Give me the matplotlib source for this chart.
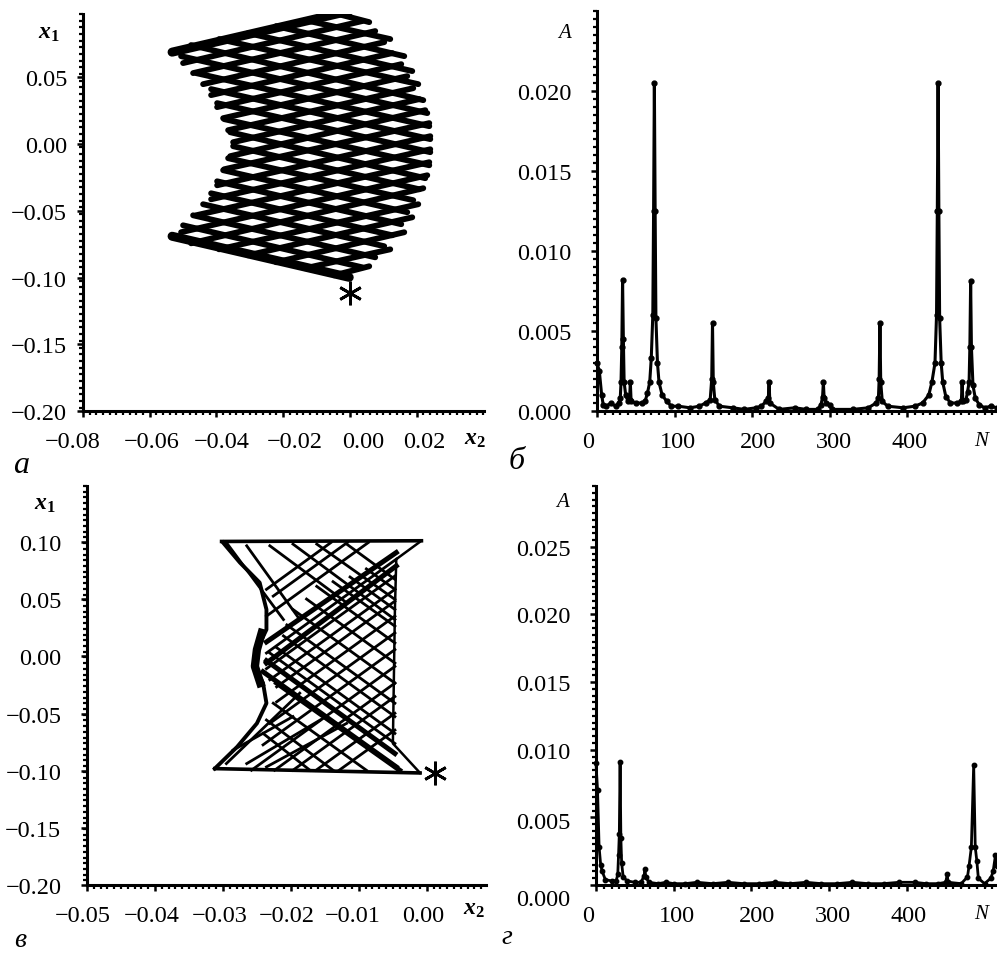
import numpy as np
import matplotlib
matplotlib.use('Agg')
import matplotlib.pyplot as plt
from matplotlib.ticker import FixedLocator
from matplotlib.transforms import ScaledTranslation

# Panel a: mesh of two line families, ends
a_up_left_x2 = [-.0533, -.0500, -.0470, -.0440, -.0416, -.0398, -.0380, -.0365, -.0350, -.0359, -.0377,
                -.0398, -.0416, -.0461, -.0506, -.0476, -.0392, -.0305, -.0221, -.0134, -.0047]
a_up_left_x1 = [.0690, .0608, .0533, .0450, .0368, .0278, .0195, .0105, .0015, -.0090, -.0188,
                -.0308, -.0413, -.0533, -.0660, -.0743, -.0788, -.0833, -.0885, -.0930, -.0983]
a_up_right_x2 = [-.0002, .0037, .0076, .0103, .0127, .0154, .0172, .0190, .0208, .0226, .0238,
                 .0241, .0241, .0238, .0232, .0220, .0205, .0187, .0163, .0121, .0058]
a_up_right_x1 = [.0998, .0923, .0848, .0765, .0683, .0600, .0510, .0420, .0338, .0255, .0158,
                 .0060, -.0038, -.0135, -.0233, -.0330, -.0450, -.0548, -.0660, -.0788, -.0915]
a_down_left_x1 = [-.0690, -.0608, -.0533, -.0450, -.0368, -.0278, -.0195, -.0105, -.0015, .0090, .0188,
                  .0308, .0413, .0533, .0660, .0743, .0788, .0833, .0885, .0930, .0983]
a_down_right_x1 = [-.0998, -.0923, -.0848, -.0765, -.0683, -.0600, -.0510, -.0420, -.0338, -.0255, -.0158,
                   -.0060, .0038, .0135, .0233, .0330, .0450, .0548, .0660, .0788, .0915]

# Panel c: thick bands
c_thick_start_x2 = [-.0236, -.0236, -.0241, -.0236, -.0221]
c_thick_start_x1 = [.0126, -.0059, -.0135, -.0038, -.0234]
c_thick_end_x2 = [-.0045, -.0045, -.0045, -.0047, -.0040]
c_thick_end_x1 = [.0908, .0791, -.0967, -.0850, -.0996]

# Panel c: thin crossing lines
c_start_x2 = [-.0236, -.0236, -.0231, -.0221, -.0221, -.0231, -.0241, -.0258, -.0224, -.0197, -.0163, -.0129,
              -.0236, -.0226, -.0236, -.0295, -.0265, -.0236, -.0285,
              -.0231, -.0221, -.0211, -.0206, -.0197, -.0177, -.0162, -.0138, -.0113, -.0089,
              -.0226, -.0236, -.0241, -.0295, -.0265, -.0231, -.0197, -.0162, -.0118]
c_start_x1 = [.0029, -.0108, -.0205, -.0267, -.0398, -.0586, -.0774, -.0996, -.0996, -.0996, -.0996, -.0996,
              .0352, .0527, .0586, -.0938, -.0938, -.0967, -.0820,
              .0029, .0076, .0179, .0275, .0410, .0501, .0612, .0653, .0694, .0765,
              -.0410, -.0557, -.0674, .0996, .0967, .0967, .0982, .0982, .0982]
c_end_x2 = [-.0045, -.0047, -.0047, -.0047, -.0047, -.0047, -.0047, -.0047, -.0047, -.0047, -.0047, -.0047,
            -.0086, -.0117, -.0141, -.0187, -.0157, -.0118, -.0197,
            -.0047, -.0047, -.0047, -.0047, -.0047, -.0047, -.0047, -.0047, -.0047, -.0047,
            -.0089, -.0138, -.0172, -.0211, -.0187, -.0118, -.0047, -.0047, -.0047]
c_end_x1 = [.0850, .0703, .0586, .0483, .0352, .0205, .0059, -.0088, -.0234, -.0352, -.0498, -.0645,
            .0996, .0996, .0996, -.0322, -.0557, -.0586, -.0527,
            -.0762, -.0674, -.0527, -.0410, -.0234, -.0059, .0117, .0264, .0410, .0586,
            -.0996, -.0996, -.0996, .0322, .0322, .0469, .0322, .0498, .0674]

# Panel c: outline
c_left_x2 = [-.0300, -.0275, -.0246, -.0236, -.0236, -.0250, -.0253, -.0241, -.0236, -.0250, -.0279, -.0312]
c_left_x1 = [.0996, .0820, .0645, .0410, .0234, .0059, -.0088, -.0234, -.0410, -.0586, -.0791, -.0982]
c_waist_x2 = [-.0243, -.0250, -.0253, -.0245]
c_waist_x1 = [.0205, .0059, -.0088, -.0234]
c_right_x2 = [-.0008, -.0045, -.0047, -.0050, -.0010]
c_right_x1 = [.1011, .0850, .0410, -.0762, -.1020]
c_top_x2 = [-.0302, -.0008]
c_top_x1 = [.1005, .1011]
c_bottom_x2 = [-.0312, -.0010]
c_bottom_x1 = [-.0982, -.1020]

# Panel b spectrum
b_n = [0, 3, 6, 8, 12, 18, 24, 28, 30, 31, 32, 33, 34, 35, 37, 40, 42, 43, 44, 50, 58, 62, 65, 68, 70, 72, 73, 74,
       75, 76, 78, 80, 84, 90, 96, 105, 120, 132, 140, 146, 148, 149, 150, 152, 158, 175, 190, 205, 212, 218, 221,
       222, 223, 235, 255, 270, 285, 289, 291, 292, 293, 296, 300, 303, 330, 350, 360, 363, 364, 365, 366, 368,
       375, 395, 410, 420, 428, 432, 436, 438, 439, 440, 441, 442, 444, 446, 450, 456, 465, 470, 471, 472, 476,
       478, 480, 481, 482, 483, 485, 488, 493, 500, 508, 516]
b_a = [.0030, .0025, .0010, .0004, .0003, .0005, .0003, .0005, .0008, .0018, .0040, .0082, .0045, .0018, .0010,
       .0006, .0007, .0018, .0006, .0005, .0005, .0006, .0011, .0018, .0033, .0060, .0125, .0205, .0125, .0058,
       .0030, .0018, .0010, .0006, .0003, .0003, .0002, .0003, .0005, .0007, .0020, .0055, .0018, .0007, .0003,
       .0002, .0001, .0002, .0003, .0006, .0008, .0018, .0005, .0001, .0002, .0001, .0001, .0004, .0009, .0018,
       .0008, .0005, .0004, .0001, .0001, .0002, .0005, .0008, .0020, .0055, .0018, .0006, .0003, .0002, .0003,
       .0005, .0010, .0018, .0030, .0060, .0125, .0205, .0125, .0058, .0030, .0018, .0009, .0005, .0005, .0006,
       .0018, .0006, .0007, .0012, .0018, .0040, .0081, .0040, .0016, .0008, .0004, .0002, .0003, .0002]

# Panel d spectrum
d_n = [0, 2, 4, 6, 8, 12, 20, 26, 28, 29, 30, 31, 32, 33, 35, 40, 50, 58, 62, 63, 64, 68, 80, 90, 100, 115, 130,
       150, 170, 190, 210, 230, 250, 270, 290, 310, 330, 350, 370, 390, 410, 425, 440, 450, 452, 453, 470, 478,
       480, 483, 486, 488, 490, 492, 500, 508, 511, 514, 516]
d_a = [.0090, .0070, .0028, .0015, .0010, .0004, .0003, .0003, .0008, .0022, .0038, .0091, .0035, .0016, .0006,
       .0003, .0002, .0002, .0007, .0012, .0006, .0002, .0001, .0002, .0001, .0001, .0002, .0001, .0002, .0001,
       .0001, .0002, .0001, .0002, .0001, .0001, .0002, .0001, .0001, .0002, .0002, .0001, .0001, .0002, .0008,
       .0002, .0001, .0006, .0014, .0028, .0089, .0028, .0018, .0005, .0001, .0005, .0010, .0022, .0014]

a_xticks = [-0.08, -0.06, -0.04, -0.02, 0.00, 0.02]
a_yticks = [-0.20, -0.15, -0.10, -0.05, 0.00, 0.05]
c_xticks = [-0.05, -0.04, -0.03, -0.02, -0.01, 0.00]
c_yticks = [-0.20, -0.15, -0.10, -0.05, 0.00, 0.05, 0.10]
b_yticks = [0.000, 0.005, 0.010, 0.015, 0.020]
d_yticks = [0.000, 0.005, 0.010, 0.015, 0.020, 0.025]
n_ticks = [0, 100, 200, 300, 400]

plt.rcParams['font.family'] = ['Liberation Serif', 'DejaVu Serif']
plt.rcParams['mathtext.fontset'] = 'custom'
plt.rcParams['mathtext.rm'] = 'Liberation Serif'
plt.rcParams['mathtext.it'] = 'Liberation Serif:italic'
plt.rcParams['mathtext.bf'] = 'Liberation Serif:bold'
plt.rcParams['mathtext.bfit'] = 'Liberation Serif:italic:bold'

W, H = 997, 954
fig = plt.figure(figsize=(W / 100, H / 100), dpi=100)


def make_axes(x0, x1, y_top, y_bot, xlim, ylim, xticks, yticks, xminor, yminor, xfmt, yfmt, xshift, ypad,
              yshift=None):
    ax = fig.add_axes([x0 / W, 1 - y_bot / H, (x1 - x0) / W, (y_bot - y_top) / H])
    ax.set_xlim(xlim)
    ax.set_ylim(ylim)
    for s in ['top', 'right']:
        ax.spines[s].set_visible(False)
    for s in ['left', 'bottom']:
        ax.spines[s].set_linewidth(2.2)
    ax.set_xticks(xticks)
    ax.set_yticks(yticks)
    ax.set_xticklabels([xfmt % t if t >= 0 else '\u2212' + xfmt % abs(t) for t in xticks])
    ax.set_yticklabels([yfmt % t if t >= 0 else '\u2212' + yfmt % abs(t) for t in yticks])
    ax.xaxis.set_minor_locator(FixedLocator(np.arange(xlim[0], xlim[1], xminor)))
    ax.yaxis.set_minor_locator(FixedLocator(np.arange(ylim[1], ylim[0], -yminor)))
    ax.tick_params(which='major', length=4.5, width=1.8, labelsize=17.5)
    ax.tick_params(axis='y', which='major', pad=ypad)
    ax.tick_params(axis='x', which='major', pad=10)
    ax.tick_params(which='minor', length=3, width=1.6)
    for lab, dx in zip(ax.get_xticklabels(), xshift):
        lab.set_transform(lab.get_transform() + ScaledTranslation(dx / 100, 0, fig.dpi_scale_trans))
    if yshift is not None:
        for lab, dy in zip(ax.get_yticklabels(), yshift):
            lab.set_transform(lab.get_transform() + ScaledTranslation(0, dy / 100, fig.dpi_scale_trans))
    return ax


ax_a = make_axes(83, 484, 15, 412, (-0.08, 0.0402), (-0.20, 0.0976), a_xticks, a_yticks, 0.002, 0.005,
                 '%.2f', '%.2f', [-10, 2, 5, 12, 13, 8], 7)
ax_b = make_axes(597, 997, 12, 412, (0, 516), (0, 0.025), n_ticks, b_yticks, 10, 0.0005,
                 '%d', '%.3f', [-9, 3, 6, 4, 2], 14)
ax_c = make_axes(87, 486, 487, 886, (-0.05, 0.0087), (-0.20, 0.149), c_xticks, c_yticks, 0.001, 0.005,
                 '%.2f', '%.2f', [-4, -3, -3, -4, -6, -4], 14)
ax_d = make_axes(596, 997, 487, 886, (0, 516), (0, 0.0295), n_ticks, d_yticks, 10, 0.0005,
                 '%d', '%.3f', [-8, 3, 6, 4, 2], 14, [-12, -3, 0, 0, 0, 0])

# Panel a mesh, outermost lines heavier
for i, (xl, yl, xr, yr) in enumerate(zip(a_up_left_x2, a_up_left_x1, a_up_right_x2, a_up_right_x1)):
    ax_a.plot([xl, xr], [yl, yr], color='black', lw=6.5 if i == 0 else 4.2, solid_capstyle='round')
for i, (xl, yl, xr, yr) in enumerate(zip(a_up_left_x2, a_down_left_x1, a_up_right_x2, a_down_right_x1)):
    ax_a.plot([xl, xr], [yl, yr], color='black', lw=6.5 if i == 0 else 4.2, solid_capstyle='round')
ax_a.plot([0.0001], [-0.1118], marker=(6, 2, 0), color='black', ms=17, mew=2.0, ls='none')

# Panel c lines
for xs, ys, xe, ye in zip(c_start_x2, c_start_x1, c_end_x2, c_end_x1):
    ax_c.plot([xs, xe], [ys, ye], color='black', lw=2.0)
for xs, ys, xe, ye in zip(c_thick_start_x2, c_thick_start_x1, c_thick_end_x2, c_thick_end_x1):
    ax_c.plot([xs, xe], [ys, ye], color='black', lw=3.6)
ax_c.plot(c_left_x2, c_left_x1, color='black', lw=2.8)
ax_c.plot(c_waist_x2, c_waist_x1, color='black', lw=6)
ax_c.plot(c_right_x2, c_right_x1, color='black', lw=1.8)
ax_c.plot(c_top_x2, c_top_x1, color='black', lw=2.6)
ax_c.plot(c_bottom_x2, c_bottom_x1, color='black', lw=2.6)
ax_c.plot([0.0012], [-0.1023], marker=(6, 2, 0), color='black', ms=17, mew=2.0, ls='none')

# Spectra
ax_b.plot(b_n, b_a, color='black', lw=2.2, marker='o', ms=3.5, clip_on=False)
ax_d.plot(d_n, d_a, color='black', lw=2.0, marker='o', ms=3.2, clip_on=False)

# Axis names and panel letters, positions in picture pixels
def label(s, px, py, size=17, **kw):
    fig.text(px / W, 1 - py / H, s, ha='center', va='center', fontsize=size, **kw)


label(r'$\mathbfit{x}_{\mathbf{1}}$', 49, 33)
label(r'$\mathbfit{x}_{\mathbf{2}}$', 475, 440)
label(r'$\mathbfit{x}_{\mathbf{1}}$', 45, 505)
label(r'$\mathbfit{x}_{\mathbf{2}}$', 474, 910)
label('A', 565, 33, style='italic', size=15)
label('A', 563, 503, style='italic', size=15)
label('N', 981, 442, style='italic', size=15)
label('N', 981, 915, style='italic', size=15)
label('а', 21, 466, style='italic', size=23)
label('б', 517, 462, style='italic', size=23)
label('в', 20, 941, style='italic', size=20)
label('г', 507, 938, style='italic', size=20)

fig.savefig('out.png', dpi=100)
